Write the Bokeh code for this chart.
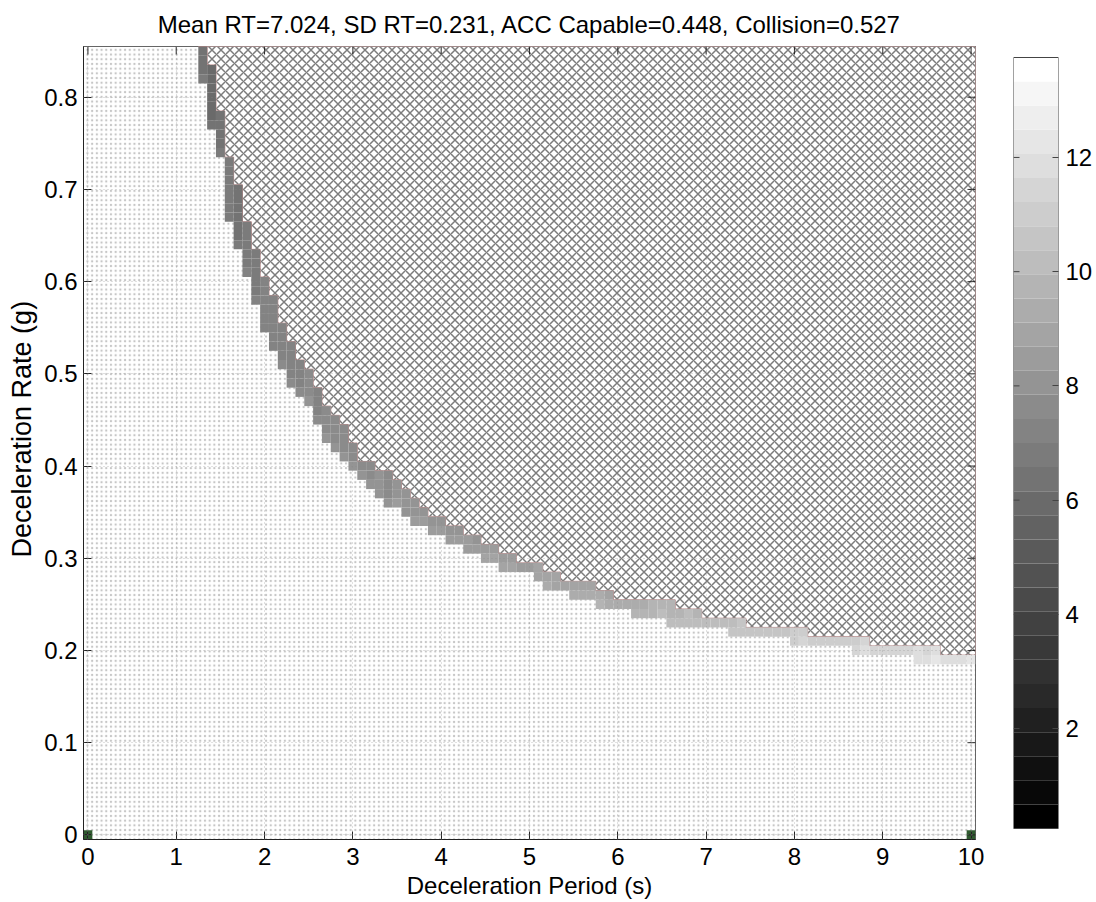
import numpy as np
from bokeh.plotting import figure
from bokeh.layouts import row
from bokeh.models import (ColumnDataSource, LinearColorMapper, FixedTicker, Range1d, Title)
from bokeh.embed import file_html
from bokeh.resources import INLINE

# ---------------- texts ----------------
title_text = "Mean RT=7.024, SD RT=0.231, ACC Capable=0.448, Collision=0.527"
x_label = "Deceleration Period (s)"
y_label = "Deceleration Rate (g)"

# ---------------- grid of the image ----------------
period_first, period_last, period_step = 0.0, 10.0, 0.1
rate_first, rate_last, rate_step = 0.0, 0.85, 0.01

x_ticks = [0, 1, 2, 3, 4, 5, 6, 7, 8, 9, 10]
y_ticks = [0, 0.1, 0.2, 0.3, 0.4, 0.5, 0.6, 0.7, 0.8]
cbar_ticks = [2, 4, 6, 8, 10, 12]
cbar_low, cbar_high = 0.25, 13.75
cbar_levels = 32

# ---------------- boundary band (grey cells) ----------------
# columns of deceleration period along the boundary
period = [1.3, 1.4, 1.5, 1.6, 1.7, 1.8, 1.9, 2.0, 2.1, 2.2, 2.3, 2.4, 2.5, 2.6, 2.7,
          2.8, 2.9, 3.0, 3.1, 3.2, 3.3, 3.4, 3.5, 3.6, 3.7, 3.8, 3.9, 4.0, 4.1, 4.2,
          4.3, 4.4, 4.5, 4.6, 4.7, 4.8, 4.9, 5.0, 5.1, 5.2, 5.3, 5.4, 5.5, 5.6, 5.7,
          5.8, 5.9, 6.0, 6.1, 6.2, 6.3, 6.4, 6.5, 6.6, 6.7, 6.8, 6.9, 7.0, 7.1, 7.2,
          7.3, 7.4, 7.5, 7.6, 7.7, 7.8, 7.9, 8.0, 8.1, 8.2, 8.3, 8.4, 8.5, 8.6, 8.7,
          8.8, 8.9, 9.0, 9.1, 9.2, 9.3, 9.4, 9.5, 9.6, 9.7, 9.8, 9.9, 10.0]
# lowest grey cell (rate) in each column
band_low = [0.82, 0.77, 0.74, 0.67, 0.64, 0.61, 0.58, 0.55, 0.53, 0.51, 0.49, 0.48, 0.47, 0.45, 0.43,
            0.42, 0.41, 0.40, 0.39, 0.38, 0.37, 0.36, 0.36, 0.35, 0.34, 0.34, 0.33, 0.33, 0.32, 0.32,
            0.31, 0.31, 0.30, 0.30, 0.29, 0.29, 0.29, 0.29, 0.28, 0.27, 0.27, 0.27, 0.26, 0.26, 0.26,
            0.25, 0.25, 0.25, 0.25, 0.24, 0.24, 0.24, 0.24, 0.23, 0.23, 0.23, 0.23, 0.23, 0.23, 0.23,
            0.22, 0.22, 0.22, 0.22, 0.22, 0.22, 0.22, 0.21, 0.21, 0.21, 0.21, 0.21, 0.21, 0.21, 0.20,
            0.20, 0.20, 0.20, 0.20, 0.20, 0.20, 0.19, 0.19, 0.19, 0.19, 0.19, 0.19, 0.19]
# highest grey cell (rate) in each column; cross-hatched region lies above it
band_high = [0.85, 0.83, 0.78, 0.73, 0.70, 0.66, 0.63, 0.60, 0.58, 0.55, 0.53, 0.51, 0.50, 0.48, 0.46,
             0.45, 0.44, 0.42, 0.40, 0.40, 0.39, 0.39, 0.38, 0.37, 0.36, 0.35, 0.34, 0.34, 0.33, 0.33,
             0.32, 0.32, 0.31, 0.31, 0.30, 0.30, 0.29, 0.29, 0.29, 0.28, 0.28, 0.27, 0.27, 0.27, 0.27,
             0.26, 0.26, 0.25, 0.25, 0.25, 0.25, 0.25, 0.25, 0.25, 0.24, 0.24, 0.24, 0.23, 0.23, 0.23,
             0.23, 0.23, 0.22, 0.22, 0.22, 0.22, 0.22, 0.22, 0.22, 0.21, 0.21, 0.21, 0.21, 0.21, 0.21,
             0.21, 0.20, 0.20, 0.20, 0.20, 0.20, 0.20, 0.20, 0.20, 0.19, 0.19, 0.19, 0.19]
# grey level (colour-bar value) of the band in each column
shade = [6.4, 6.0, 6.3, 6.6, 6.5, 6.8, 6.8, 7.0, 7.0, 7.1, 7.2, 7.3, 7.5, 7.4, 7.6,
         7.6, 7.7, 7.6, 7.8, 7.8, 7.9, 7.8, 8.0, 7.9, 8.0, 8.1, 8.0, 8.1, 8.2, 8.1,
         8.3, 8.2, 8.4, 8.4, 8.5, 8.4, 8.6, 8.6, 8.7, 8.8, 8.7, 8.9, 9.0, 8.9, 9.1,
         9.2, 9.1, 9.3, 9.4, 9.5, 9.4, 9.6, 9.7, 9.8, 9.9, 10.0, 9.9, 10.1, 10.2, 10.1,
         10.3, 10.4, 10.5, 10.4, 10.6, 10.7, 10.6, 10.8, 10.9, 10.9, 11.0, 10.9, 11.1, 11.2, 11.2,
         11.3, 11.4, 11.3, 11.5, 11.5, 11.6, 11.7, 11.6, 11.8, 11.9, 11.9, 12.0, 12.1]

# two single cells in the bottom corners
corner_period = [0.0, 10.0]
corner_rate = [0.0, 0.0]

# ---------------- derived geometry ----------------
hx, hy = period_step / 2, rate_step / 2
x0, x1 = period_first - hx, period_last + hx
y0, y1 = rate_first - hy, rate_last + hy

cell_x, cell_y, cell_v = [], [], []
for p_, lo, hi, s in zip(period, band_low, band_high, shade):
    n = int(round((hi - lo) / rate_step)) + 1
    for k in range(n):
        cell_x.append(p_)
        cell_y.append(lo + k * rate_step)
        cell_v.append(s + 0.35 * (k == 0 and n > 1))
cells = ColumnDataSource(dict(x=cell_x, y=cell_y, v=cell_v))

hatch_xs, hatch_ys = [], []
for p_, hi in zip(period, band_high):
    hatch_xs += [p_ - hx, p_ + hx]
    hatch_ys += [hi + hy, hi + hy]
hatch_xs += [x1, period[0] - hx]
hatch_ys += [y1, y1]

gray_pal = ["#%02x%02x%02x" % (g, g, g) for g in np.linspace(0, 255, cbar_levels).astype(int)]
mapper = LinearColorMapper(palette=gray_pal, low=cbar_low, high=cbar_high)

FONT = "Liberation Sans"
FS = "24px"
BORDER_TOP, BORDER_BOTTOM = 46, 63

p = figure(width=1013, height=902, x_range=Range1d(x0, x1), y_range=Range1d(y0, y1),
           output_backend="svg", toolbar_location=None,
           min_border_left=83, min_border_right=38, min_border_top=BORDER_TOP,
           min_border_bottom=BORDER_BOTTOM,
           background_fill_color="white", border_fill_color="white")

# dotted background
p.quad(left=[x0], right=[x1], bottom=[y0], top=[y1], fill_color="white", line_color=None,
       hatch_pattern="dot", hatch_color="#222222", hatch_alpha=0.26, hatch_scale=4.7,
       hatch_weight=0.1)
# cross-hatched region
p.patch(hatch_xs, hatch_ys, fill_color="white", line_color="#b88a8a", line_width=1,
        hatch_pattern="diagonal_cross", hatch_color="#7c7c7c", hatch_scale=9, hatch_weight=1.5)
# grey boundary cells
p.rect(x="x", y="y", width=period_step, height=rate_step, source=cells,
       fill_color={"field": "v", "transform": mapper}, line_color=None)
# corner cells
p.rect(x=corner_period, y=corner_rate, width=period_step, height=rate_step,
       fill_color="#2e5a2e", line_color=None)

# inward tick marks on the top and right edges of the box
p.ray(x=x_ticks, y=[y1] * len(x_ticks), length=8, length_units="screen",
      angle=-np.pi / 2, line_color="#222222", line_width=1)
p.ray(x=[x1] * len(y_ticks), y=y_ticks, length=8, length_units="screen",
      angle=np.pi, line_color="#222222", line_width=1)

p.title.text = title_text
p.title.align = "center"
p.title.text_font = FONT
p.title.text_font_size = FS
p.title.text_font_style = "normal"
p.title.text_color = "black"
p.title.standoff = 17

p.xaxis.axis_label = x_label
for ax in (p.xaxis[0], p.yaxis[0]):
    ax.axis_label_text_font = FONT
    ax.axis_label_text_font_size = FS
    ax.axis_label_text_font_style = "normal"
    ax.axis_label_text_color = "black"
    ax.major_label_text_font = FONT
    ax.major_label_text_font_size = FS
    ax.major_label_text_color = "black"
    ax.major_tick_in = 8
    ax.major_tick_out = 0
    ax.minor_tick_line_color = None
    ax.axis_line_color = "#222222"
    ax.major_tick_line_color = "#222222"
p.xaxis.ticker = FixedTicker(ticks=x_ticks)
p.yaxis.ticker = FixedTicker(ticks=y_ticks)
p.yaxis.major_label_overrides = {0: "0"}
p.xaxis.major_label_standoff = 8
p.yaxis.major_label_standoff = 6
p.xaxis.axis_label_standoff = 4

# y label as a side title, starting a little above the bottom of the frame
ylab = Title(text=y_label, align="left", offset=282, standoff=9,
             text_font=FONT, text_font_size="27px", text_font_style="normal",
             text_color="black")
p.add_layout(ylab, "left")

p.grid.level = "overlay"
p.xgrid.ticker = FixedTicker(ticks=x_ticks)
p.ygrid.ticker = FixedTicker(ticks=y_ticks)
p.grid.grid_line_color = "#888888"
p.grid.grid_line_alpha = 0.5
p.grid.grid_line_dash = "1 3"
p.outline_line_color = "#333333"
p.outline_line_width = 1

# ---------------- colour bar (its own small figure, frame aligned with the plot) ----------------
frame_h = 902 - BORDER_TOP - BORDER_BOTTOM
bar_px = 771                                   # bar is a little shorter than the frame
pad = (frame_h - bar_px) / 2 * (cbar_high - cbar_low) / bar_px
edges = np.linspace(cbar_low, cbar_high, cbar_levels + 1)
cbar_src = ColumnDataSource(dict(bottom=edges[:-1], top=edges[1:], color=gray_pal))
cbf = figure(width=83, height=902, x_range=Range1d(0, 1),
             y_range=Range1d(cbar_low - pad, cbar_high + pad),
             output_backend="svg", toolbar_location=None,
             x_axis_location=None, y_axis_location="right",
             min_border_left=0, min_border_right=38, min_border_top=BORDER_TOP,
             min_border_bottom=BORDER_BOTTOM,
             background_fill_color="white", border_fill_color="white")
cbf.quad(left=0, right=1, bottom="bottom", top="top", fill_color="color", line_color=None,
         source=cbar_src)
cbf.quad(left=[0], right=[1], bottom=[cbar_low], top=[cbar_high], fill_color=None,
         line_color="#444444", line_width=1)
cbf.ray(x=[0] * len(cbar_ticks), y=cbar_ticks, length=6, length_units="screen", angle=0,
        line_color="#444444", line_width=1)
cbf.grid.visible = False
cbf.outline_line_color = None
cbf.yaxis.ticker = FixedTicker(ticks=cbar_ticks)
cbf.yaxis.major_label_text_font = FONT
cbf.yaxis.major_label_text_font_size = FS
cbf.yaxis.major_label_text_color = "black"
cbf.yaxis.major_label_standoff = 7
cbf.yaxis.major_tick_in = 6
cbf.yaxis.major_tick_out = 0
cbf.yaxis.major_tick_line_color = "#444444"
cbf.yaxis.minor_tick_line_color = None
cbf.yaxis.axis_line_color = None

layout = row(p, cbf, spacing=0)
open("out.html", "w").write(file_html(layout, INLINE))
